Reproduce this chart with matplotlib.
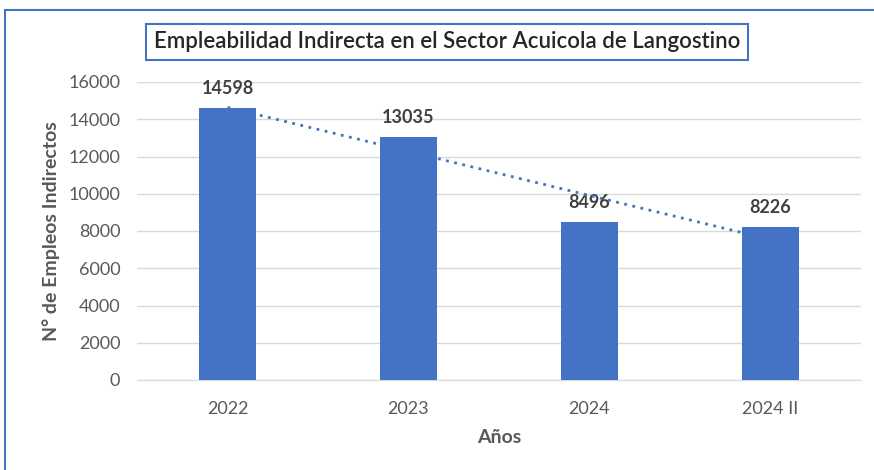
import numpy as np
import matplotlib.pyplot as plt
from matplotlib.patches import Rectangle

# datos
anios = ["2022", "2023", "2024", "2024 II"]
empleos = [14598, 13035, 8496, 8226]

azul = "#4472C4"
gris = "#595959"

fig = plt.figure(figsize=(8.74, 4.70), dpi=100)
ax = fig.add_axes([137/874, 1-380/470, 724/874, 298/470])

x = np.arange(len(anios))
ax.bar(x, empleos, width=0.32, color=azul, zorder=3)

# linea de tendencia lineal
m, b = np.polyfit(x, empleos, 1)
ax.plot(x, m*x + b, linestyle=(0, (1, 2)), color=azul, linewidth=2, zorder=4)

# etiquetas de datos
for xi, v in zip(x, empleos):
    ax.text(xi, v + 600, str(v), ha="center", va="bottom", fontsize=13,
            fontweight="bold", color="#404040", family="Lato")

ax.set_xlim(-0.5, len(anios) - 0.5)
ax.set_ylim(0, 16000)
ax.set_yticks(np.arange(0, 16001, 2000))
ax.set_xticks(x)
ax.set_xticklabels(anios)
ax.grid(axis="y", color="#D9D9D9", linewidth=1, zorder=0)
for s in ["top", "right", "left"]:
    ax.spines[s].set_visible(False)
ax.spines["bottom"].set_color("#D9D9D9")
ax.tick_params(length=0, labelsize=13, labelcolor=gris)
ax.tick_params(axis="y", pad=12)
ax.tick_params(axis="x", pad=15)
for lab in ax.get_xticklabels() + ax.get_yticklabels():
    lab.set_family("Lato")

ax.set_ylabel("N° de Empleos Indirectos", fontsize=14, fontweight="bold",
              color=gris, family="Lato", labelpad=6)
ax.set_xlabel("Años", fontsize=14, fontweight="bold", color=gris,
              family="Lato", labelpad=9)

# titulo con recuadro
fig.text(447/874, 1-42/470, "Empleabilidad Indirecta en el Sector Acuicola de Langostino",
         ha="center", va="center", fontsize=16, color="#262626", family="Lato",
         fontweight="semibold",
         bbox=dict(boxstyle="square,pad=0.35", facecolor="white", edgecolor=azul, linewidth=1.5))

# borde exterior
fig.patches.append(Rectangle((5/874, -0.1), 1.0, 1-10/470+0.1, transform=fig.transFigure,
                             fill=False, edgecolor=azul, linewidth=1.5))

fig.savefig("out.png", dpi=100)
